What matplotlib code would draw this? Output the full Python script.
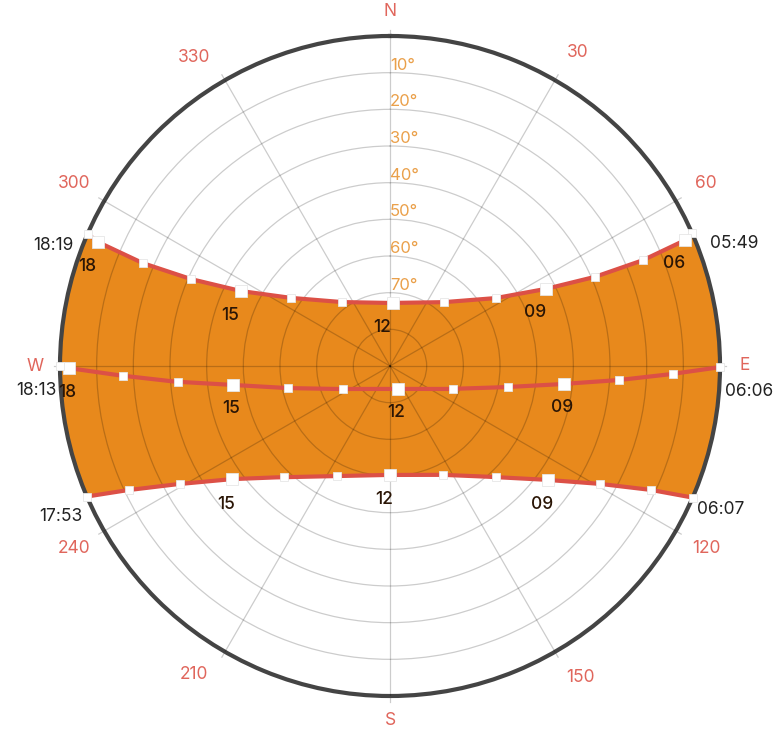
import numpy as np
import matplotlib.pyplot as plt

# Sun positions per hour: azimuth (deg from N, clockwise) and elevation (deg)
summer_hours = ['05:49', '06', '07', '08', '09', '10', '11', '12', '13', '14', '15', '16', '17', '18', '18:19']
summer_az = [66.3, 66.9, 67.3, 66.5, 63.7, 57.3, 40.2, 2.7, 323.1, 304.5, 296.7, 293.6, 292.6, 293.0, 293.6]
summer_el = [0.0, 2.4, 15.2, 29.0, 42.5, 55.7, 67.2, 72.8, 68.2, 57.2, 44.5, 30.8, 17.0, 3.5, 0.0]

equinox_hours = ['06:06', '07', '08', '09', '10', '11', '12', '13', '14', '15', '16', '17', '18', '18:13']
equinox_az = [90.2, 91.6, 93.5, 95.9, 100.1, 110.0, 160.8, 243.9, 257.8, 263.1, 265.7, 267.9, 269.6, 270.0]
equinox_el = [0.0, 12.8, 27.4, 42.3, 57.3, 71.7, 83.4, 75.7, 61.5, 46.9, 32.0, 17.1, 2.5, 0.0]

winter_hours = ['06:07', '07', '08', '09', '10', '11', '12', '13', '14', '15', '16', '17', '17:53']
winter_az = [113.5, 115.4, 119.3, 125.8, 136.3, 154.1, 180.0, 205.7, 223.7, 234.4, 240.7, 244.6, 246.7]
winter_el = [0.0, 11.2, 24.3, 36.9, 48.1, 57.0, 60.3, 56.7, 48.1, 37.0, 24.3, 11.2, 0.0]

labelled_hours = ['06', '09', '12', '15', '18']
ring_labels = ['10°', '20°', '30°', '40°', '50°', '60°', '70°']
compass = {0: 'N', 90: 'E', 180: 'S', 270: 'W'}
# small angular shifts for the bearing labels that sit near the N-S axis
label_nudge = {30: 1.0, 150: -1.5, 210: 2.5, 330: -2.4}

ORANGE = '#e8891c'
RED = '#dc5046'
LABEL_RED = '#e0665c'
RING_ORANGE = '#eaa04a'

plt.rcParams['font.family'] = ['Inter', 'DejaVu Sans']


def to_polar_dense(az, el, steps=20):
    """Straight segments between hourly points, returned as (theta, zenith)."""
    az = np.radians(np.asarray(az))
    zen = 90.0 - np.asarray(el)
    x, y = zen * np.sin(az), zen * np.cos(az)
    xs, ys = [x[0]], [y[0]]
    for i in range(len(x) - 1):
        t = np.linspace(0, 1, steps)[1:]
        xs.extend(x[i] + (x[i + 1] - x[i]) * t)
        ys.extend(y[i] + (y[i + 1] - y[i]) * t)
    xs, ys = np.array(xs), np.array(ys)
    return np.arctan2(xs, ys), np.hypot(xs, ys)


fig = plt.figure(figsize=(7.82, 7.38), dpi=100)
ax = fig.add_axes([60 / 782, 42 / 738, 660 / 782, 660 / 738], projection='polar')
ax.set_theta_zero_location('N')
ax.set_theta_direction(-1)
ax.set_ylim(0, 90)

# band between the two solstice paths, closed along the horizon
s_th, s_r = to_polar_dense(summer_az, summer_el)
w_th, w_r = to_polar_dense(winter_az, winter_el)
west_arc = np.linspace(np.radians(summer_az[-1]), np.radians(winter_az[-1]), 40)
east_arc = np.linspace(np.radians(winter_az[0]), np.radians(summer_az[0]), 40)
band_th = np.unwrap(np.concatenate([s_th, west_arc, w_th[::-1], east_arc]))
band_r = np.concatenate([s_r, np.full(40, 90.0), w_r[::-1], np.full(40, 90.0)])
ax.fill(band_th, band_r, color=ORANGE, lw=0, zorder=1)

# grid
ax.set_rgrids([10, 20, 30, 40, 50, 60, 70, 80], labels=[])
ax.set_thetagrids(np.arange(0, 360, 30), labels=[])
ax.grid(True, color='black', alpha=0.2, lw=0.9)
ax.set_axisbelow(False)
ax.spines['polar'].set_color('#444444')
ax.spines['polar'].set_linewidth(3)
ax.tick_params(length=0)

for r, lab in zip([80, 70, 60, 50, 40, 30, 20], ring_labels):
    ax.text(0, r, lab, color=RING_ORANGE, fontsize=12, ha='left', va='bottom', zorder=5)

for deg in range(0, 360, 30):
    th = np.radians(deg)
    # short stubs of the spokes poking out past the rim
    ax.plot([th, th], [90, 91.7], color='black', alpha=0.2, lw=0.9, clip_on=False)
    if deg in compass:
        ax.text(th, 96.7, compass[deg], color=LABEL_RED, fontsize=12.5,
                ha='center', va='center', clip_on=False)
    else:
        ax.text(np.radians(deg + label_nudge.get(deg, 0)), 99.6, str(deg), color=LABEL_RED,
                fontsize=12.5, ha='center', va='center', clip_on=False)

# the three paths
paths = [
    (summer_hours, summer_az, summer_el, (-11, -24)),
    (equinox_hours, equinox_az, equinox_el, (-2, -24)),
    (winter_hours, winter_az, winter_el, (-6, -25)),
]
for hours, az, el, off in paths:
    th, r = to_polar_dense(az, el)
    ax.plot(th, r, color=RED, lw=3, zorder=3, solid_capstyle='butt')
    for h, a, e in zip(hours, az, el):
        big = h in labelled_hours
        ax.plot(np.radians(a), 90 - e, 's', ms=9 if big else 6, mfc='white',
                mec='#e6e6e6', mew=0.6, zorder=4, clip_on=False)
        if big:
            ax.annotate(h, (np.radians(a), 90 - e), xytext=off, textcoords='offset pixels',
                        ha='center', va='center', fontsize=12.5, fontweight='medium',
                        color='#2a1505', zorder=5)

# sunrise / sunset times
time_labels = [
    (summer_az[0], summer_hours[0], (18, -10), 'left'),
    (summer_az[-1], summer_hours[-1], (-14, -12), 'right'),
    (equinox_az[0], equinox_hours[0], (5, -24), 'left'),
    (equinox_az[-1], equinox_hours[-1], (-3, -24), 'right'),
    (winter_az[0], winter_hours[0], (4, -12), 'left'),
    (winter_az[-1], winter_hours[-1], (-4, -20), 'right'),
]
for a, txt, off, ha in time_labels:
    ax.annotate(txt, (np.radians(a), 90), xytext=off, textcoords='offset pixels',
                ha=ha, va='center', fontsize=12.5, color='#222222', annotation_clip=False)

fig.savefig('out.png', dpi=100, facecolor='white')
